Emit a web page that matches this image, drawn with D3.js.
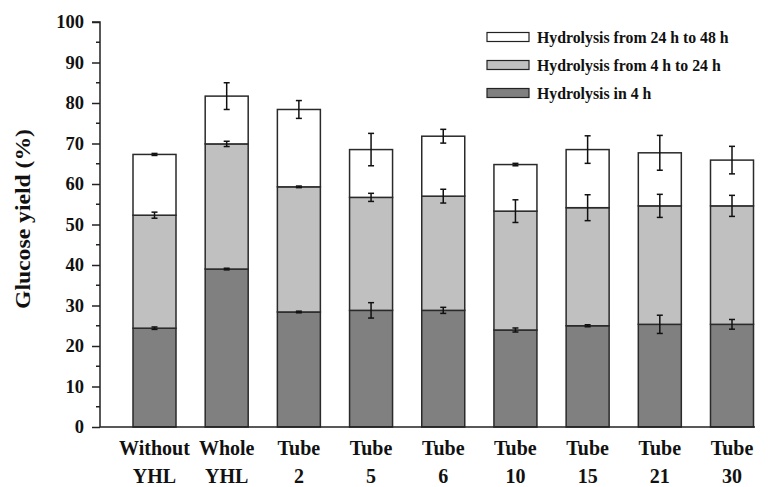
<!DOCTYPE html>
<html><head><meta charset="utf-8">
<script src="https://cdn.jsdelivr.net/npm/d3@7"></script>
<style>
html,body{margin:0;padding:0;background:#fff;}
</style></head>
<body><svg id="c" width="771" height="487"></svg>
<script>
const categories = [["Without","YHL"],["Whole","YHL"],["Tube","2"],["Tube","5"],["Tube","6"],["Tube","10"],["Tube","15"],["Tube","21"],["Tube","30"]];
const seriesNames = ["Hydrolysis in 4 h","Hydrolysis from 4 h to 24 h","Hydrolysis from 24 h to 48 h"];
const in4h      = [24.4, 39.0, 28.4, 28.8, 28.8, 23.95, 25.0, 25.35, 25.35];
const from4to24 = [27.9, 30.9, 30.9, 27.9, 28.2, 29.35, 29.15, 29.25, 29.25];
const from24to48= [15.0, 11.8, 19.1, 11.8, 14.8, 11.5, 14.35, 13.1, 11.3];
const err4h     = [0.3, 0.2, 0.2, 1.9, 0.75, 0.5, 0.25, 2.25, 1.2];
const err24h    = [0.75, 0.65, 0.2, 1.0, 1.7, 2.8, 3.2, 2.85, 2.6];
const err48h    = [0.25, 3.3, 2.2, 4.0, 1.7, 0.3, 3.4, 4.3, 3.4];
const yTicks = [0,10,20,30,40,50,60,70,80,90,100];

const FONT = "Liberation Serif, Times New Roman, serif";
const svg = d3.select("#c");
const keys = categories.map(c => c.join(" "));
const rows = keys.map((k,i)=>({key:k, s0:in4h[i], s1:from4to24[i], s2:from24to48[i]}));
const stack = d3.stack().keys(["s0","s1","s2"])(rows);
const errs = [err4h, err24h, err48h];
const fills = ["#808080","#c0c0c0","#ffffff"];

const y = d3.scaleLinear().domain([0,100]).range([427,22]);
const x = d3.scalePoint().domain(keys).range([154.5,732]);
const bw = 43;

// bars
stack.forEach((layer,li)=>{
  svg.append("g").selectAll("rect").data(layer).join("rect")
    .attr("x", d=>x(d.data.key)-bw/2)
    .attr("y", d=>y(d[1]))
    .attr("width", bw)
    .attr("height", d=>y(d[0])-y(d[1]))
    .attr("fill", fills[li])
    .attr("stroke","#2a2a2a").attr("stroke-width",1.5);
});
// error bars
stack.forEach((layer,li)=>{
  const g = svg.append("g").attr("stroke","#111").attr("stroke-width",1.5);
  layer.forEach((d,i)=>{
    const cx = x(d.data.key), e = errs[li][i];
    const t = y(d[1]+e), b = y(d[1]-e);
    g.append("line").attr("x1",cx).attr("x2",cx).attr("y1",t).attr("y2",b);
    g.append("line").attr("x1",cx-3).attr("x2",cx+3).attr("y1",t).attr("y2",t);
    g.append("line").attr("x1",cx-3).attr("x2",cx+3).attr("y1",b).attr("y2",b);
  });
});

// y axis
const yAxis = d3.axisLeft(y).tickValues(yTicks).tickSize(8).tickPadding(8);
const ga = svg.append("g").attr("transform","translate(100,0)").call(yAxis)
  .attr("font-family",FONT).attr("font-size",18.5).attr("font-weight","bold");
ga.select(".domain").attr("stroke","#222").attr("stroke-width",1.5).attr("d","M-8,22H0V427");
ga.selectAll(".tick line").attr("stroke","#222").attr("stroke-width",1.5);
ga.selectAll(".tick text").attr("fill","#111");
const minor = d3.range(5,100,10);
svg.append("g").selectAll("line").data(minor).join("line")
  .attr("x1",96).attr("x2",100).attr("y1",d=>y(d)).attr("y2",d=>y(d))
  .attr("stroke","#222").attr("stroke-width",1.5);

// x axis line
svg.append("line").attr("x1",100).attr("x2",755).attr("y1",y(0)).attr("y2",y(0))
  .attr("stroke","#222").attr("stroke-width",1.5);

// x labels
const xl = svg.append("g").attr("font-family",FONT).attr("font-weight","bold").attr("font-size",20).attr("fill","#111");
categories.forEach((c,i)=>{
  const t = xl.append("text").attr("text-anchor","middle")
    .attr("x", x(keys[i])).attr("y",455);
  t.append("tspan").attr("x",x(keys[i])).attr("dy",0).text(c[0]);
  t.append("tspan").attr("x",x(keys[i])).attr("dy",28).text(c[1]);
});

// y label
svg.append("text").attr("transform","translate(30,219) rotate(-90)")
  .attr("font-family",FONT).attr("font-weight","bold").attr("fill","#111")
  .attr("text-anchor","middle").attr("font-size",20)
  .attr("textLength",180).attr("lengthAdjust","spacingAndGlyphs")
  .text("Glucose yield (%)");

// legend
const leg = svg.append("g").attr("font-family",FONT).attr("font-weight","bold").attr("fill","#111");
[2,1,0].forEach((si,j)=>{
  const yy = 32.5 + j*28;
  leg.append("rect").attr("x",487).attr("y",yy).attr("width",42).attr("height",9)
    .attr("fill",fills[si]).attr("stroke","#222").attr("stroke-width",1.2);
  leg.append("text").attr("x",537).attr("y",yy+10.5).attr("font-size",15.8).text(seriesNames[si]);
});
</script></body></html>
